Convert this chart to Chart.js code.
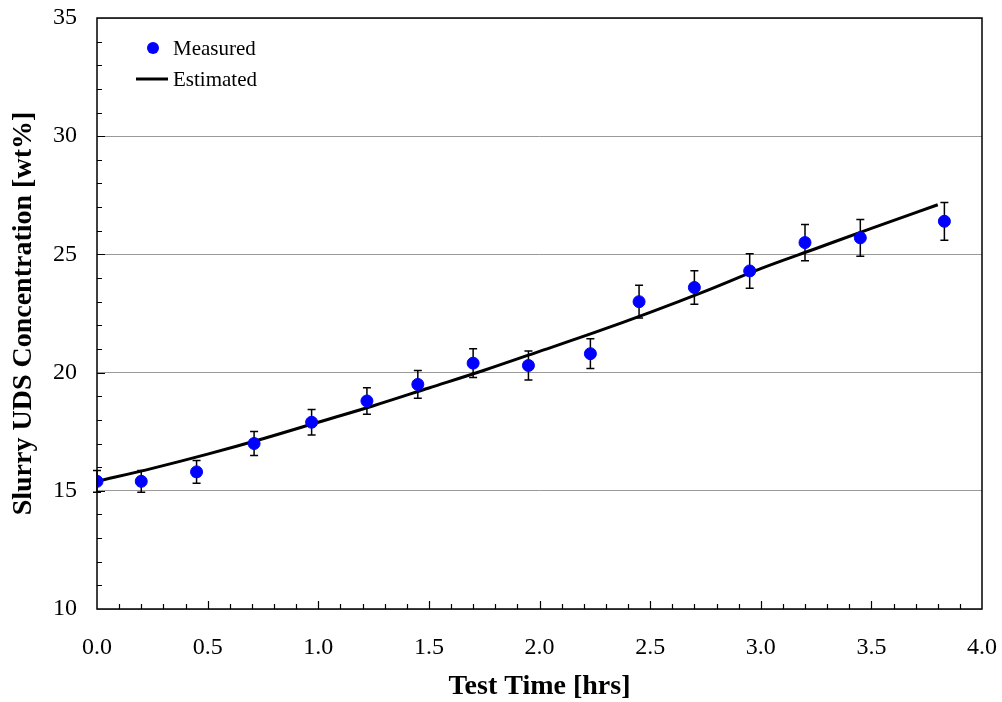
<!DOCTYPE html>
<html>
<head>
<meta charset="utf-8">
<script src="https://cdn.jsdelivr.net/npm/chart.js@4/dist/chart.umd.min.js"></script>
<style>
    body { margin: 0; background: #fff; }
    #wrap { width: 1002px; height: 702px; }
</style>
</head>
<body>
<div id="wrap"><canvas id="concChart"></canvas></div>
<script>
// measured slurry UDS concentration
const testTime = [0.0, 0.20, 0.45, 0.71, 0.97, 1.22, 1.45, 1.70, 1.95, 2.23, 2.45, 2.70, 2.95, 3.20, 3.45, 3.83];
const measured = [15.4, 15.4, 15.8, 17.0, 17.9, 18.8, 19.5, 20.4, 20.3, 20.8, 23.0, 23.6, 24.3, 25.5, 25.7, 26.4];
const errorBar = [0.46, 0.46, 0.48, 0.51, 0.54, 0.56, 0.59, 0.61, 0.61, 0.63, 0.69, 0.71, 0.73, 0.77, 0.78, 0.80];

// estimated curve
const estTime = [0.0, 0.25, 0.5, 0.75, 1.0, 1.25, 1.5, 1.75, 2.0, 2.25, 2.5, 2.75, 3.0, 3.25, 3.5, 3.8];
const estimated = [15.4, 15.95, 16.55, 17.2, 17.9, 18.6, 19.35, 20.1, 20.9, 21.7, 22.55, 23.45, 24.4, 25.25, 26.1, 27.1];

const xTicks = [0, 0.5, 1.0, 1.5, 2.0, 2.5, 3.0, 3.5, 4.0];
const yTicks = [10, 15, 20, 25, 30, 35];

const serif = "'Liberation Serif', 'Times New Roman', serif";

let extrasPlugin = {
    id: 'extras',
    beforeDatasetsDraw: (chart) => {
        const ctx = chart.ctx;
        const xs = chart.scales.x;
        const ys = chart.scales.y;
        ctx.save();
        ctx.strokeStyle = '#000';
        ctx.lineWidth = 1.5;
        // error bars
        testTime.forEach((t, i) => {
            let px = xs.getPixelForValue(t);
            let top = ys.getPixelForValue(measured[i] + errorBar[i]);
            let bot = ys.getPixelForValue(measured[i] - errorBar[i]);
            ctx.beginPath();
            ctx.moveTo(px, top); ctx.lineTo(px, bot);
            ctx.moveTo(px - 4, top); ctx.lineTo(px + 4, top);
            ctx.moveTo(px - 4, bot); ctx.lineTo(px + 4, bot);
            ctx.stroke();
        });
        ctx.restore();
    },
    afterDraw: (chart) => {
        const ctx = chart.ctx;
        const a = chart.chartArea;
        const xs = chart.scales.x;
        const ys = chart.scales.y;
        ctx.save();
        ctx.strokeStyle = '#000';
        ctx.lineWidth = 1.2;
        // inside ticks
        ctx.beginPath();
        for (let i = 1; i < 40; i++) {
            let px = Math.round(xs.getPixelForValue(i / 10)) + 0.5;
            let len = (i % 5 === 0) ? 8 : 5;
            ctx.moveTo(px, a.bottom); ctx.lineTo(px, a.bottom - len);
        }
        for (let v = 11; v < 35; v++) {
            let py = Math.round(ys.getPixelForValue(v)) + 0.5;
            let len = (v % 5 === 0) ? 8 : 5;
            ctx.moveTo(a.left, py); ctx.lineTo(a.left + len, py);
        }
        ctx.stroke();
        // frame
        ctx.lineWidth = 1.5;
        ctx.strokeRect(a.left, a.top, a.right - a.left, a.bottom - a.top);

        // legend
        ctx.fillStyle = '#0000ff';
        ctx.beginPath();
        ctx.arc(153, 48, 6, 0, Math.PI * 2);
        ctx.fill();
        ctx.strokeStyle = '#000';
        ctx.lineWidth = 3;
        ctx.beginPath();
        ctx.moveTo(136, 79); ctx.lineTo(168, 79);
        ctx.stroke();
        ctx.fillStyle = '#000';
        ctx.font = '21px ' + serif;
        ctx.textBaseline = 'middle';
        ctx.fillText(chart.data.datasets[0].label, 173, 49);
        ctx.fillText(chart.data.datasets[1].label, 173, 80);
        ctx.restore();
    }
};

let ctx = document.getElementById('concChart').getContext('2d');
let concChart = new Chart(ctx, {
    type: 'scatter',
    data: {
        datasets: [{
            label: 'Measured',
            data: testTime.map((t, i) => ({ x: t, y: measured[i] })),
            backgroundColor: '#0000ff',
            borderColor: '#0000ff',
            pointRadius: 6,
            pointHoverRadius: 6,
            order: 1
        }, {
            label: 'Estimated',
            type: 'line',
            data: estTime.map((t, i) => ({ x: t, y: estimated[i] })),
            borderColor: '#000',
            borderWidth: 3,
            pointRadius: 0,
            cubicInterpolationMode: 'monotone',
            fill: false,
            order: 2
        }]
    },
    options: {
        responsive: true,
        maintainAspectRatio: false,
        animation: false,
        layout: { padding: { top: 18, right: 20, left: 0, bottom: 0 } },
        plugins: { legend: { display: false }, tooltip: { enabled: false } },
        scales: {
            x: {
                type: 'linear',
                min: 0, max: 4,
                afterBuildTicks: (scale) => { scale.ticks = xTicks.map(v => ({ value: v })); },
                afterFit: (scale) => {
                    scale.height = 93;
                    scale.paddingLeft = 0;
                    scale.paddingRight = 0;
                },
                grid: { display: false, drawTicks: false },
                border: { display: false },
                ticks: {
                    color: '#000',
                    padding: 24,
                    font: { family: serif, size: 24 },
                    callback: (v) => v.toFixed(1)
                },
                title: {
                    display: true,
                    text: 'Test Time [hrs]',
                    color: '#000',
                    font: { family: serif, size: 28, weight: 'bold', lineHeight: 1 },
                    padding: { top: 0, bottom: 1 }
                }
            },
            y: {
                min: 10, max: 35,
                afterBuildTicks: (scale) => { scale.ticks = yTicks.map(v => ({ value: v })); },
                afterFit: (scale) => {
                    scale.width = 97;
                    scale.paddingTop = 0;
                    scale.paddingBottom = 0;
                },
                grid: { color: '#999', lineWidth: 1, drawTicks: false },
                border: { display: false },
                ticks: {
                    color: '#000',
                    padding: 20,
                    font: { family: serif, size: 24 }
                },
                title: {
                    display: true,
                    text: 'Slurry UDS Concentration [wt%]',
                    color: '#000',
                    font: { family: serif, size: 28, weight: 'bold', lineHeight: 1 },
                    padding: { top: 10, bottom: 0 }
                }
            }
        }
    },
    plugins: [extrasPlugin]
});
</script>
</body>
</html>
